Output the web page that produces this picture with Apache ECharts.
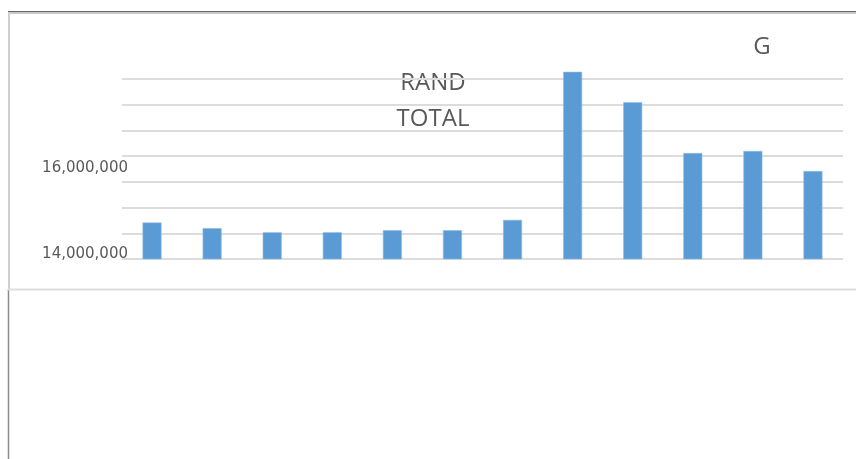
<!DOCTYPE html>
<html>
<head>
<meta charset="utf-8">
<script src="https://cdn.jsdelivr.net/npm/echarts@6/dist/echarts.min.js"></script>
<style>
html,body{margin:0;padding:0;background:#fff;}
#chart{width:856px;height:459px;}
</style>
</head>
<body>
<div id="chart"></div>
<script>
// Data
var categories = ['1','2','3','4','5','6','7','8','9','10','11','12'];
var values = [14710000, 14600000, 14520000, 14520000, 14560000, 14560000, 14760000, 17640000, 17050000, 16060000, 16100000, 15710000];
var yMin = 14000000, yMax = 17700000, yStep = 500000;
var shownTicks = [14000000, 16000000];
var titleLines = ['RAND', 'TOTAL'];
var cornerText = 'G';

function fmt(v){ return v.toString().replace(/\B(?=(\d{3})+(?!\d))/g, ','); }

var chart = echarts.init(document.getElementById('chart'), null, {renderer:'canvas'});
chart.setOption({
  animation:false,
  backgroundColor:'#ffffff',
  grid:{left:122, right:13, top:68.7, bottom:200, containLabel:false},
  xAxis:{
    type:'category', data:categories,
    axisLine:{show:false}, axisTick:{show:false}, axisLabel:{show:false}, splitLine:{show:false}
  },
  yAxis:{
    type:'value', min:yMin, max:yMax, interval:yStep,
    axisLine:{show:false}, axisTick:{show:false},
    splitLine:{show:true, showMaxLine:false, lineStyle:{color:'#dcdcdc', width:2}},
    axisLabel:{
      show:true, margin:-6, color:'#595959', showMaxLabel:false,
      fontFamily:'DejaVu Sans', fontSize:15,
      formatter:function(v){
        if (v === shownTicks[1]) return '{b|' + fmt(v) + '}';
        if (v === shownTicks[0]) return '{a|' + fmt(v) + '}';
        return '';
      },
      rich:{
        a:{fontFamily:'DejaVu Sans', fontSize:15, color:'#595959', padding:[0,0,10,0]},
        b:{fontFamily:'DejaVu Sans', fontSize:15, color:'#595959', padding:[24,0,0,0]}
      }
    }
  },
  series:[{
    type:'bar', data:values, barWidth:19,
    itemStyle:{color:'#5b9bd5', borderColor:'#8fbde6', borderWidth:0.6}
  }],
  graphic:[
    {type:'line', silent:true, shape:{x1:8, y1:11.5, x2:856, y2:11.5}, style:{stroke:'#666666', lineWidth:1}},
    {type:'line', silent:true, shape:{x1:8, y1:13, x2:856, y2:13}, style:{stroke:'#c8c8c8', lineWidth:2}},
    {type:'line', silent:true, shape:{x1:9, y1:12, x2:9, y2:289}, style:{stroke:'#cfcfcf', lineWidth:2}},
    {type:'line', silent:true, shape:{x1:8.5, y1:289, x2:8.5, y2:459}, style:{stroke:'#8a8a8a', lineWidth:1.5}},
    {type:'line', silent:true, shape:{x1:8, y1:289.5, x2:856, y2:289.5}, style:{stroke:'#dedede', lineWidth:2}},
    {type:'text', silent:true, x:433, y:65, style:{text:titleLines.join('\n'), fill:'#595959', font:'24px "Open Sans"', align:'center', lineHeight:36}},
    {type:'text', silent:true, x:762, y:35, style:{text:cornerText, fill:'#595959', font:'24px "Open Sans"', align:'center', lineHeight:24}}
  ]
});
</script>
</body>
</html>
